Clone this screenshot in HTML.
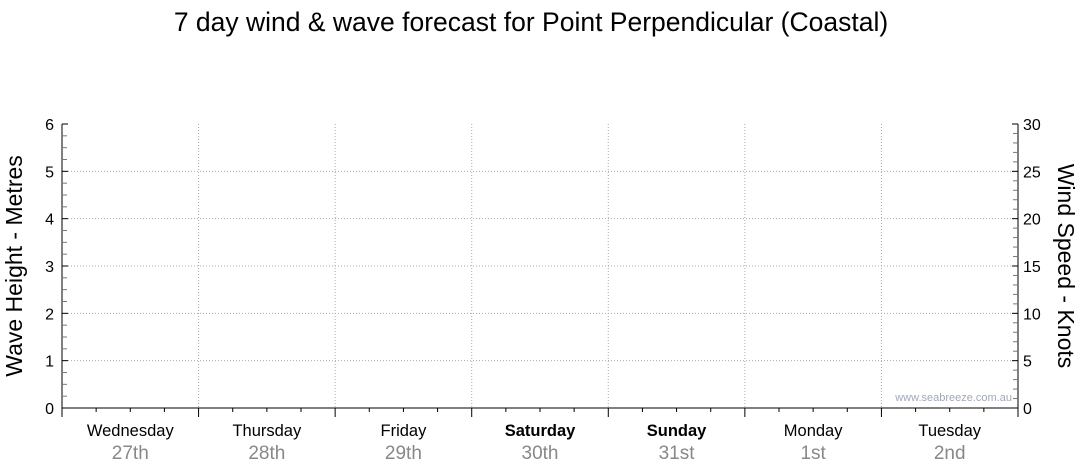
<!DOCTYPE html>
<html><head><meta charset="utf-8"><style>
html,body{margin:0;padding:0;background:#fff;width:1080px;height:475px;overflow:hidden}
svg{display:block;font-family:"Liberation Sans",Arial,sans-serif}
</style></head><body>
<svg id="chart" width="1080" height="475" viewBox="0 0 1080 475">
<text x="531" y="31" text-anchor="middle" font-size="26.5" fill="#000">7 day wind &amp; wave forecast for Point Perpendicular (Coastal)</text>
<text transform="translate(22,266) rotate(-90)" text-anchor="middle" font-size="23" fill="#000">Wave Height - Metres</text>
<text transform="translate(1058,266) rotate(90)" text-anchor="middle" font-size="23" fill="#000">Wind Speed - Knots</text>
<text x="1012" y="401" text-anchor="end" font-size="11" fill="#a0a8b8">www.seabreeze.com.au</text>
<g id="grid"></g><g id="axes"></g><g id="series"></g>
</svg>
<script>
const days = ["Wednesday","Thursday","Friday","Saturday","Sunday","Monday","Tuesday"];
const dates = ["27th","28th","29th","30th","31st","1st","2nd"];
const weekend = [false,false,false,true,true,false,false];
const waveTicks = [0,1,2,3,4,5,6];
const windTicks = [0,5,10,15,20,25,30];
const waveValues = [];
const windValues = [];
const NS="http://www.w3.org/2000/svg";
const X0=62,X1=1018,Y0=408,Y1=124;
const xDay=d=>X0+(X1-X0)*d/days.length;
const yWave=v=>Y0-(Y0-Y1)*v/6;
const yWind=v=>Y0-(Y0-Y1)*v/30;
function mk(tag,attrs,parent){const e=document.createElementNS(NS,tag);for(const k in attrs)e.setAttribute(k,attrs[k]);parent.appendChild(e);return e;}
const grid=document.getElementById('grid'),axes=document.getElementById('axes');
waveTicks.forEach(v=>{
  if(v>0&&v<6){const l=mk('line',{x1:X0,x2:X1,y1:yWave(v),y2:yWave(v),stroke:'#aaa','stroke-dasharray':'1,2'},grid);
  
  }
  const t=mk('text',{x:X0-8,y:yWave(v)+6,'text-anchor':'end','font-size':16,fill:'#000'},axes);t.textContent=v;
  
  
});
for(let i=1;i<days.length;i++){const l=mk('line',{x1:xDay(i),x2:xDay(i),y1:Y1,y2:Y0,stroke:'#aaa','stroke-dasharray':'1,2'},grid);
  
  }
mk('line',{x1:X0,x2:X0,y1:Y1,y2:Y0,stroke:'#000'},axes);
mk('line',{x1:X1,x2:X1,y1:Y1,y2:Y0,stroke:'#000'},axes);
mk('line',{x1:X0,x2:X1,y1:Y0,y2:Y0,stroke:'#000'},axes);
for(let i=0;i<=24;i++){const v=i*0.25;mk('line',{x1:X0,x2:X0+(i%4?5:6),y1:yWave(v),y2:yWave(v),stroke:i%4?'#777':'#000'},axes);}
for(let i=0;i<=30;i++){mk('line',{x1:X1-(i%5?5:6),x2:X1,y1:yWind(i),y2:yWind(i),stroke:i%5?'#777':'#000'},axes);}
windTicks.forEach(v=>{const t=mk('text',{x:X1+5,y:yWind(v)+6,'font-size':16,fill:'#000'},axes);t.textContent=v;
  
  });
for(let i=0;i<days.length*4+1;i++){const x=X0+(X1-X0)*i/(days.length*4);
  mk('line',{x1:x,x2:x,y1:Y0,y2:Y0+(i%4?4:9),stroke:'#000'},axes);}
days.forEach((d,i)=>{const cx=(xDay(i)+xDay(i+1))/2;
  const t=mk('text',{x:cx,y:436,'text-anchor':'middle','font-size':16.5,fill:'#000','font-weight':weekend[i]?'bold':'normal'},axes);t.textContent=d;
  
  
  const t2=mk('text',{x:cx,y:459,'text-anchor':'middle','font-size':19,fill:'#888'},axes);t2.textContent=dates[i];
  
  
});
</script>
</body></html>
